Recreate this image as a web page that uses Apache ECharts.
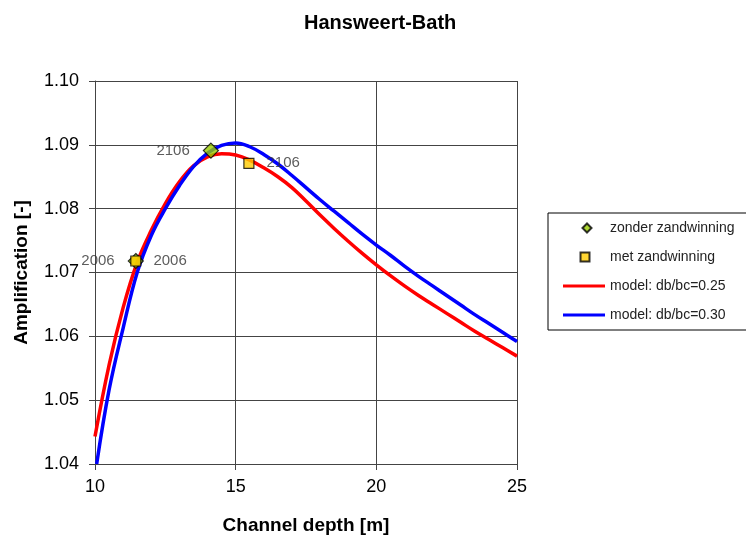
<!DOCTYPE html>
<html>
<head>
<meta charset="utf-8">
<script src="https://cdn.jsdelivr.net/npm/echarts@6/dist/echarts.min.js"></script>
<style>
  html, body { margin: 0; padding: 0; background: #fff; }
  #chart { width: 746px; height: 540px; }
</style>
</head>
<body>
<div id="chart"></div>
<script>
// model curve db/bc=0.25 (red)
const redX = [10, 10.5, 11, 11.5, 12, 12.5, 13, 13.5, 14, 14.5, 15, 15.5, 16, 16.5, 17, 17.5, 18, 18.5, 19, 19.5, 20, 20.5, 21, 21.5, 22, 22.5, 23, 23.5, 24, 24.5, 25]
const redY = [1.0443, 1.0555, 1.0645, 1.0716, 1.0766, 1.0808, 1.0842, 1.0867, 1.0881, 1.0886, 1.0884, 1.0876, 1.0864, 1.085, 1.0833, 1.0812, 1.079, 1.0769, 1.0749, 1.073, 1.0712, 1.0695, 1.0679, 1.0664, 1.065, 1.0636, 1.0622, 1.0608, 1.0595, 1.0582, 1.0569]
// model curve db/bc=0.30 (blue)
const blueX = [10.06, 10.5, 11, 11.5, 12, 12.5, 13, 13.5, 14, 14.5, 15, 15.5, 16, 16.5, 17, 17.5, 18, 18.5, 19, 19.5, 20, 20.5, 21, 21.5, 22, 22.5, 23, 23.5, 24, 24.5, 25]
const blueY = [1.04, 1.0516, 1.0613, 1.07, 1.0758, 1.08, 1.0836, 1.0866, 1.0887, 1.0899, 1.0903, 1.0897, 1.0885, 1.087, 1.0852, 1.0833, 1.0814, 1.0796, 1.0778, 1.076, 1.0743, 1.0727, 1.071, 1.0694, 1.0679, 1.0664, 1.0649, 1.0634, 1.062, 1.0606, 1.0592]
// measurements
const zonderX = [11.45, 14.12]
const zonderY = [1.0718, 1.0891]
const zonderLabels = ['2006', '2106']
const metX = [11.45, 15.47]
const metY = [1.0718, 1.0871]
const metLabels = ['2006', '2106']

const seriesNames = ['zonder zandwinning', 'met zandwinning', 'model: db/bc=0.25', 'model: db/bc=0.30']
const xTicks = [10, 15, 20, 25]
const yTicks = [1.04, 1.05, 1.06, 1.07, 1.08, 1.09, 1.10]

const font = 'Liberation Sans, Arial, sans-serif'
const gridColor = '#444'

// legend icons: the leading moves pin the box to 42x10 so the marks keep their size
const iconDiamond = 'path://M0,0 M42,10 M19.5,5 L24,0.5 L28.5,5 L24,9.5 Z'
const iconSquare = 'path://M0,0 M42,10 M17.5,0.5 L26.5,0.5 L26.5,9.5 L17.5,9.5 Z'
const iconLine = 'path://M0,0 M42,10 M0,3.5 L42,3.5 L42,6.5 L0,6.5 Z'

function pairs(xs, ys) {
  return xs.map((x, i) => [x, ys[i]])
}
function labelled(xs, ys, labels) {
  return xs.map((x, i) => ({ value: [x, ys[i]], name: labels[i] }))
}

const chart = echarts.init(document.getElementById('chart'), null, { renderer: 'canvas' })
const option = {
  backgroundColor: '#fff',
  animation: false,
  title: {
    text: 'Hansweert-Bath',
    left: 299,
    top: 8,
    textStyle: { fontFamily: font, fontSize: 20, fontWeight: 'bold', color: '#000' }
  },
  legend: {
    orient: 'vertical',
    left: 548,
    top: 213,
    padding: [8, 30, 8, 14],
    itemWidth: 42,
    itemHeight: 10,
    itemGap: 15,
    symbolKeepAspect: true,
    borderColor: '#000',
    borderWidth: 1,
    data: [
      { name: seriesNames[0], icon: iconDiamond },
      { name: seriesNames[1], icon: iconSquare },
      { name: seriesNames[2], icon: iconLine, itemStyle: { color: '#ff0000', borderWidth: 0 } },
      { name: seriesNames[3], icon: iconLine, itemStyle: { color: '#0000ff', borderWidth: 0 } }
    ],
    textStyle: { fontFamily: font, fontSize: 14, color: '#222' }
  },
  grid: { left: 95, right: 229, top: 81, bottom: 73 },
  xAxis: {
    type: 'value',
    min: xTicks[0],
    max: xTicks[xTicks.length - 1],
    interval: 5,
    name: 'Channel depth [m]',
    nameLocation: 'middle',
    nameGap: 52,
    nameTextStyle: { fontFamily: font, fontSize: 19, fontWeight: 'bold', color: '#000' },
    axisLine: { lineStyle: { color: gridColor, width: 1 } },
    axisTick: { show: true, length: 6, lineStyle: { color: gridColor } },
    axisLabel: { fontFamily: font, fontSize: 18, color: '#000', margin: 14 },
    splitLine: { show: true, lineStyle: { color: gridColor, width: 1 } }
  },
  yAxis: {
    type: 'value',
    min: yTicks[0],
    max: yTicks[yTicks.length - 1],
    interval: 0.01,
    name: 'Amplification [-]',
    nameLocation: 'middle',
    nameGap: 64,
    nameRotate: 90,
    nameTextStyle: { fontFamily: font, fontSize: 19, fontWeight: 'bold', color: '#000' },
    axisLine: { show: true, lineStyle: { color: gridColor, width: 1 } },
    axisTick: { show: true, length: 6, lineStyle: { color: gridColor } },
    axisLabel: {
      fontFamily: font, fontSize: 18, color: '#000', margin: 16,
      formatter: v => v.toFixed(2)
    },
    splitLine: { show: true, lineStyle: { color: gridColor, width: 1 } }
  },
  series: [
    {
      name: seriesNames[2],
      type: 'line',
      data: pairs(redX, redY),
      smooth: 0.4,
      symbol: 'none',
      lineStyle: { color: '#ff0000', width: 3.5 },
      itemStyle: { color: '#ff0000' },
      z: 2
    },
    {
      name: seriesNames[3],
      type: 'line',
      data: pairs(blueX, blueY),
      smooth: 0.4,
      symbol: 'none',
      lineStyle: { color: '#0000ff', width: 3.5 },
      itemStyle: { color: '#0000ff' },
      z: 3
    },
    {
      name: seriesNames[0],
      type: 'scatter',
      data: labelled(zonderX, zonderY, zonderLabels),
      symbol: 'diamond',
      symbolSize: 15,
      itemStyle: { color: '#99cc00', borderColor: '#000', borderWidth: 1.2 },
      label: {
        show: true, position: 'left', distance: 13, formatter: '{b}',
        fontFamily: font, fontSize: 15, color: '#333'
      },
      z: 4
    },
    {
      name: seriesNames[1],
      type: 'scatter',
      data: labelled(metX, metY, metLabels),
      symbol: 'rect',
      symbolSize: 10,
      itemStyle: { color: '#ffcc00', borderColor: '#000', borderWidth: 1.2 },
      label: {
        show: true, position: 'right', distance: 12, formatter: '{b}',
        fontFamily: font, fontSize: 15, color: '#333'
      },
      z: 5
    }
  ]
}
chart.setOption(option)
</script>
</body>
</html>
